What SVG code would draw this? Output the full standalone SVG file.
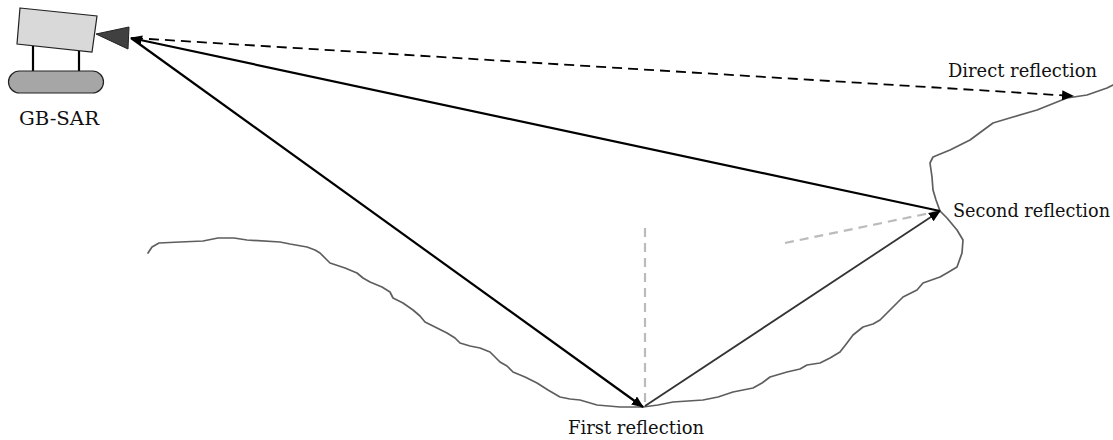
<svg xmlns="http://www.w3.org/2000/svg" width="1113" height="440" viewBox="0 0 1113 440">
  <style>
    text { font-family: 'DejaVu Serif', 'Liberation Serif', serif; font-size: 18px; fill: #111; }
    .terrain { fill: none; stroke: #5e5e5e; stroke-width: 1.7; stroke-linejoin: round; stroke-linecap: round; }
    .ray { fill: none; stroke: #000; stroke-width: 2.2; }
    .ray2 { fill: none; stroke: #333; stroke-width: 1.8; }
    .direct { fill: none; stroke: #000; stroke-width: 1.8; stroke-dasharray: 10 6; }
    .normal { fill: none; stroke: #bbb; stroke-width: 2.2; stroke-dasharray: 9 6; }
  </style>
  <defs>
    <marker id="head" viewBox="0 0 12 10" refX="11" refY="5" markerWidth="12" markerHeight="10" markerUnits="userSpaceOnUse" orient="auto">
      <path d="M0,0 L12,5 L0,10 Z" fill="#000"/>
    </marker>
  </defs>

  <rect width="1113" height="440" fill="#fff"/>

  <!-- ground profile -->
  <g id="terrain">
    <path class="terrain" d="M148,253 L152,247 L159,243 L180,242 L203,241 L218,238 L234,238 L247,240 L280,242 L290,244 L307,247 L315,250 L320,253 L326,259 L330,263 L345,268 L357,273 L363,278 L370,282 L382,287 L390,292 L393,298 L403,303 L413,310 L420,316 L425,322 L437,328 L447,333 L455,338 L460,343 L470,346 L480,348 L490,352 L495,357 L500,362 L507,366 L513,372 L525,377 L537,383 L548,390 L560,397 L570,399 L580,400 L597,405 L620,407 L643,407 L658,405 L673,402 L703,400 L718,397 L733,392 L753,388 L762,383 L770,377 L787,372 L800,369 L807,365 L820,363 L830,358 L840,352 L847,343 L853,335 L863,327 L873,324 L880,320 L887,313 L897,303 L903,297 L917,290 L923,283 L940,277 L947,273 L957,267 L962,253 L963,240 L957,230 L947,218 L940,211 L936,200 L933,190 L932,177 L930,163 L933,157 L950,150 L970,140 L993,123 L1013,117 L1037,110 L1067,98 L1087,95 L1107,88 L1113,85"/>
  </g>

  <!-- surface normals -->
  <g id="normals">
    <line class="normal" x1="645" y1="228" x2="645" y2="407"/>
    <line class="normal" x1="785" y1="243" x2="940" y2="211"/>
  </g>

  <!-- radar -->
  <g id="gb-sar">
    <polygon points="20,8 97,16 92,52 17,44" fill="#d9d9d9" stroke="#222" stroke-width="1.2"/>
    <line x1="33" y1="46" x2="33" y2="72" stroke="#000" stroke-width="2.2"/>
    <line x1="79" y1="51" x2="79" y2="72" stroke="#000" stroke-width="2.2"/>
    <rect x="8.5" y="71" width="95" height="22" rx="11" ry="11" fill="#a6a6a6" stroke="#222" stroke-width="1.2"/>
    <polygon points="96,34 129,27 128,49" fill="#404040" stroke="#222" stroke-width="1"/>
    <text x="19" y="125" textLength="80" lengthAdjust="spacingAndGlyphs">GB-SAR</text>
  </g>

  <!-- propagation paths -->
  <g id="connectors">
    <line class="direct" x1="133" y1="38" x2="1073" y2="96" marker-end="url(#head)"/>
    <line class="ray" x1="131" y1="38" x2="643" y2="407" marker-end="url(#head)"/>
    <line class="ray2" x1="645" y1="406" x2="940" y2="211" marker-end="url(#head)"/>
    <line class="ray" x1="940" y1="211" x2="131" y2="38" marker-end="url(#head)"/>
  </g>

  <g id="label-direct">
    <text x="948" y="77" textLength="149" lengthAdjust="spacingAndGlyphs">Direct reflection</text>
  </g>
  <g id="label-second">
    <text x="953" y="217" textLength="157" lengthAdjust="spacingAndGlyphs">Second reflection</text>
  </g>
  <g id="label-first">
    <text x="568" y="434" textLength="136" lengthAdjust="spacingAndGlyphs">First reflection</text>
  </g>
</svg>
